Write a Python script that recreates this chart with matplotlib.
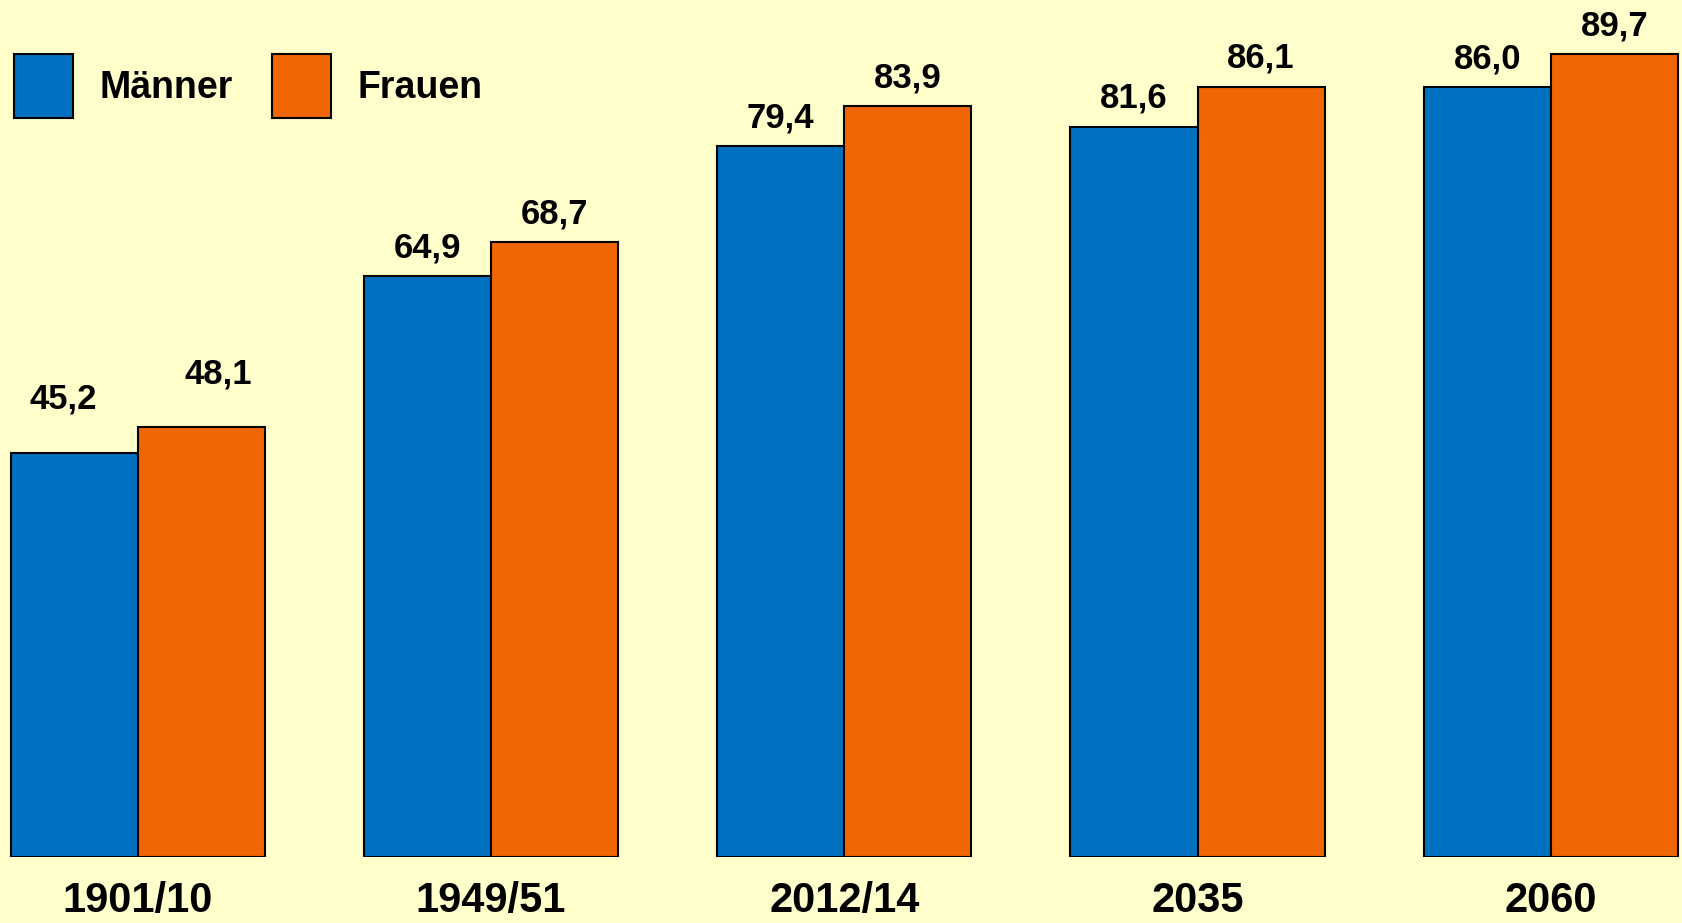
import matplotlib
matplotlib.use("Agg")
import matplotlib.pyplot as plt
import numpy as np
from matplotlib.transforms import blended_transform_factory

categories = ["1901/10", "1949/51", "2012/14", "2035", "2060"]
maenner = [45.2, 64.9, 79.4, 81.6, 86.0]
frauen = [48.1, 68.7, 83.9, 86.1, 89.7]
series_names = ["Männer", "Frauen"]

BG = "#FFFFCC"
BLUE = "#0070C0"
ORANGE = "#F06605"

W, H, DPI = 1683, 923, 100
fig = plt.figure(figsize=(W / DPI, H / DPI), dpi=DPI, facecolor=BG)
ax = fig.add_axes([0, (H - 857) / H, 1, 857 / H])
ax.set_facecolor(BG)

x = np.arange(len(categories))
bw = 0.36
b1 = ax.bar(x - bw / 2, maenner, bw, color=BLUE, edgecolor="black", linewidth=1.5, label=series_names[0])
b2 = ax.bar(x + bw / 2, frauen, bw, color=ORANGE, edgecolor="black", linewidth=1.5, label=series_names[1])

ax.set_xlim(-0.3898, 4.374)
ax.set_ylim(0, 95.77)
ax.axis("off")

# label offsets in pixels (first group labels sit higher in the original)
off_m = [(-11, 44)] + [(0, 19)] * 4
off_f = [(17, 43)] + [(0, 19)] * 4

def fmt(v):
    return f"{v:.1f}".replace(".", ",")

for xi, v, o in zip(x - bw / 2, maenner, off_m):
    ax.annotate(fmt(v), (xi, v), xytext=o, textcoords="offset pixels",
                ha="center", va="baseline", fontsize=25, fontweight="bold",
                family=["Liberation Sans", "DejaVu Sans"], annotation_clip=False)
for xi, v, o in zip(x + bw / 2, frauen, off_f):
    ax.annotate(fmt(v), (xi, v), xytext=o, textcoords="offset pixels",
                ha="center", va="baseline", fontsize=25, fontweight="bold",
                family=["Liberation Sans", "DejaVu Sans"], annotation_clip=False)

tr = blended_transform_factory(ax.transData, fig.transFigure)
for xi, c in zip(x, categories):
    ax.text(xi, 2 / H, c, transform=tr, ha="center", va="bottom",
            fontsize=30, fontweight="bold",
            family=["Liberation Sans", "DejaVu Sans"])

leg = fig.legend(handles=[b1, b2], labels=series_names, loc="upper left",
                 bbox_to_anchor=(14 / W, 1 - 54 / H), ncol=2, frameon=False,
                 borderpad=0, borderaxespad=0, handlelength=1.57, handleheight=2.26,
                 handletextpad=0.7, columnspacing=1.05,
                 prop={"family": "Liberation Sans", "weight": "bold", "size": 27})

fig.savefig("out.png", dpi=DPI, facecolor=BG)
